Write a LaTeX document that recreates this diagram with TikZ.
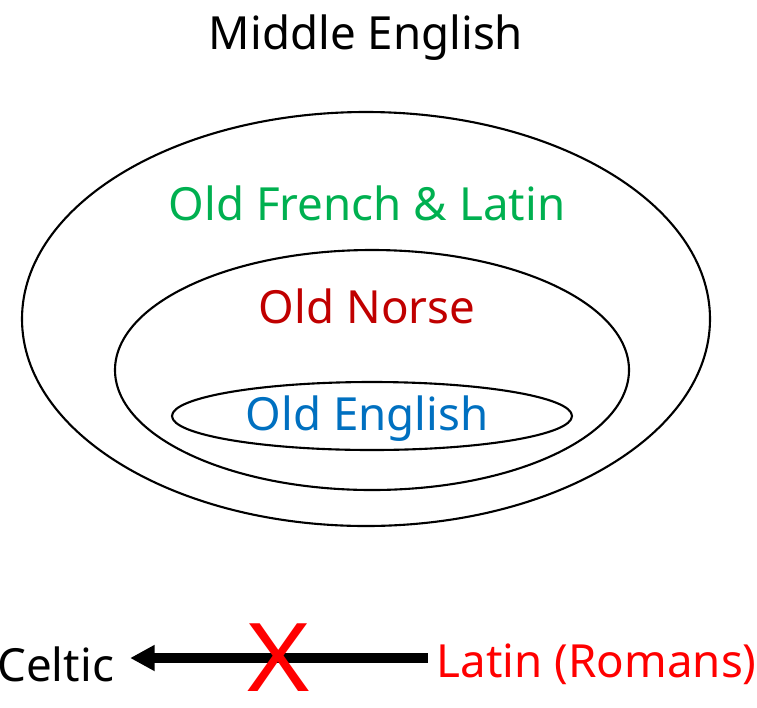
\documentclass[tikz,border=0pt]{standalone}
\usepackage{fontspec}
\setmainfont{Noto Sans}
\usepackage{tikz}
\usetikzlibrary{positioning, arrows.meta}
\definecolor{ofgreen}{HTML}{00B050}
\definecolor{ondarkred}{HTML}{C00000}
\definecolor{oeblue}{HTML}{0070C0}
\definecolor{latred}{HTML}{FF0000}

\begin{document}
\begin{tikzpicture}[x=0.02cm, y=-0.02cm, lbl/.style={font=\fontsize{26}{30}\selectfont, inner sep=2pt}]
    \useasboundingbox (0,0) rectangle (757,707);
    % Ellipses
    \draw[line width=1.2pt] (366,319) ellipse [x radius=344, y radius=207];
    \draw[line width=1.2pt] (372,370) ellipse [x radius=257, y radius=120];
    \draw[line width=1.2pt] (372,416) ellipse [x radius=200, y radius=34];

    % Labels
    \node[lbl] (middle) at (366,38) {Middle English};
    \node[lbl, text=ofgreen] (french) at (367,203) {Old French \& Latin};
    \node[lbl, text=ondarkred] (norse) at (367,306) {Old Norse};
    \node[lbl, text=oeblue] (oldeng) at (367,419) {Old English};

    % Bottom
    \node[lbl, anchor=west, inner sep=0pt] (celtic) at (-3,664) {Celtic};
    \node[lbl, text=latred, anchor=east, inner sep=0pt] (latin) at (757,664) {Latin (Romans)};
    \draw[line width=5.5pt, -{Triangle[length=14pt, width=14pt]}, shorten <=5pt, shorten >=9pt]
        (latin.west |- 0,658) -- (celtic.east |- 0,658);
    \node[text=latred, font=\fontsize{54}{56}\selectfont, inner sep=0pt, xscale=1.12] (cross) at (279,658) {X};
\end{tikzpicture}
\end{document}
